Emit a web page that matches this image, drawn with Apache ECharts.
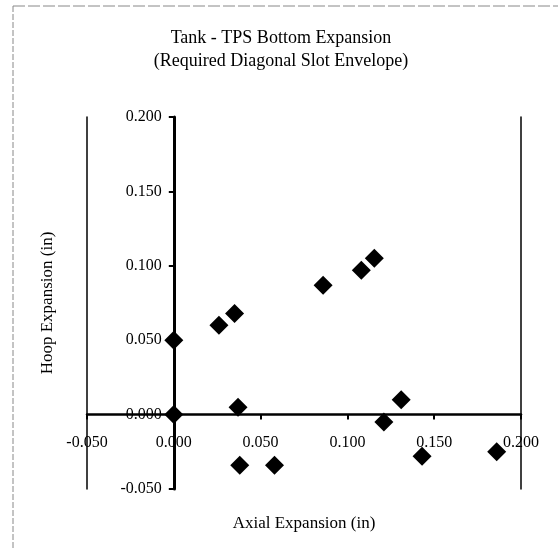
<!DOCTYPE html>
<html>
<head>
<meta charset="utf-8">
<script src="https://cdn.jsdelivr.net/npm/echarts@6/dist/echarts.min.js"></script>
<style>html,body{margin:0;padding:0;background:#fff;}#c{width:558px;height:550px;}</style>
</head>
<body>
<div id="c"></div>
<script>
const titleText = 'Tank - TPS Bottom Expansion\n(Required Diagonal Slot Envelope)';
const xAxisName = 'Axial Expansion (in)';
const yAxisName = 'Hoop Expansion (in)';
const axialValues = [0.000, 0.000, 0.026, 0.035, 0.086, 0.108, 0.1155, 0.037, 0.038, 0.058, 0.131, 0.121, 0.143, 0.186];
const hoopValues  = [0.050, 0.000, 0.060, 0.068, 0.087, 0.097, 0.105, 0.005, -0.034, -0.034, 0.010, -0.005, -0.028, -0.025];
const axisMin = -0.05, axisMax = 0.2, axisStep = 0.05;

const points = axialValues.map((x, i) => [x, hoopValues[i]]);
const font = 'Liberation Serif';
const gridBox = {left: 87, right: 37, top: 117, bottom: 61};
const chart = echarts.init(document.getElementById('c'), null, {renderer: 'canvas'});

function buildOption(xOffset, yOffset) {
  const borderAxis = (pos) => ({
    type: 'value', min: axisMin, max: axisMax, interval: axisStep, position: pos,
    axisLine: {show: true, onZero: false, lineStyle: {color: '#000', width: 1.5}},
    axisTick: {show: false}, axisLabel: {show: false}, splitLine: {show: false}
  });
  return {
    animation: false,
    backgroundColor: '#fff',
    title: {
      text: titleText, left: 276, top: 22, textAlign: 'center',
      textStyle: {fontFamily: font, fontSize: 18, fontWeight: 'normal', color: '#000', lineHeight: 23}
    },
    grid: Object.assign({containLabel: false, outerBoundsMode: 'none'}, gridBox),
    xAxis: {
      type: 'value', min: axisMin, max: axisMax, interval: axisStep,
      position: 'bottom', offset: xOffset,
      name: xAxisName, nameLocation: 'middle', nameGap: 100,
      nameTextStyle: {fontFamily: font, fontSize: 17, color: '#000'},
      axisLine: {onZero: false, lineStyle: {color: '#000', width: 2.5}},
      axisTick: {show: true, length: 5, lineStyle: {color: '#000', width: 2}},
      axisLabel: {fontFamily: font, fontSize: 16, color: '#000', margin: 20, formatter: v => v.toFixed(3)},
      splitLine: {show: false}
    },
    yAxis: [{
      type: 'value', min: axisMin, max: axisMax, interval: axisStep,
      position: 'left', offset: yOffset,
      name: yAxisName, nameLocation: 'middle', nameGap: 118, nameRotate: 90,
      nameTextStyle: {fontFamily: font, fontSize: 17, color: '#000'},
      axisLine: {onZero: false, lineStyle: {color: '#000', width: 3}},
      axisTick: {show: true, length: 5, lineStyle: {color: '#000', width: 2}},
      axisLabel: {fontFamily: font, fontSize: 16, color: '#000', margin: 12, formatter: v => v.toFixed(3)},
      splitLine: {show: false}
    }, borderAxis('left'), borderAxis('right')],
    graphic: [
      {type: 'line', shape: {x1: 13, y1: 6, x2: 13, y2: 550}, style: {stroke: '#888', lineWidth: 1, lineDash: [6, 2]}},
      {type: 'line', shape: {x1: 13, y1: 6, x2: 558, y2: 6}, style: {stroke: '#888', lineWidth: 1, lineDash: [12, 3]}}
    ],
    series: [{
      type: 'scatter', yAxisIndex: 0, data: points,
      symbol: 'diamond', symbolSize: 19,
      itemStyle: {color: '#000', opacity: 1}
    }]
  };
}

chart.setOption(buildOption(0, 0));
// place the crossing axes at the data zero using the library's own scales
const zero = chart.convertToPixel({xAxisIndex: 0, yAxisIndex: 0}, [0, 0]);
const gridBottomPx = chart.getHeight() - gridBox.bottom;
const gridLeftPx = gridBox.left;
chart.setOption(buildOption(zero[1] - gridBottomPx, gridLeftPx - zero[0]), true);
</script>
</body>
</html>
